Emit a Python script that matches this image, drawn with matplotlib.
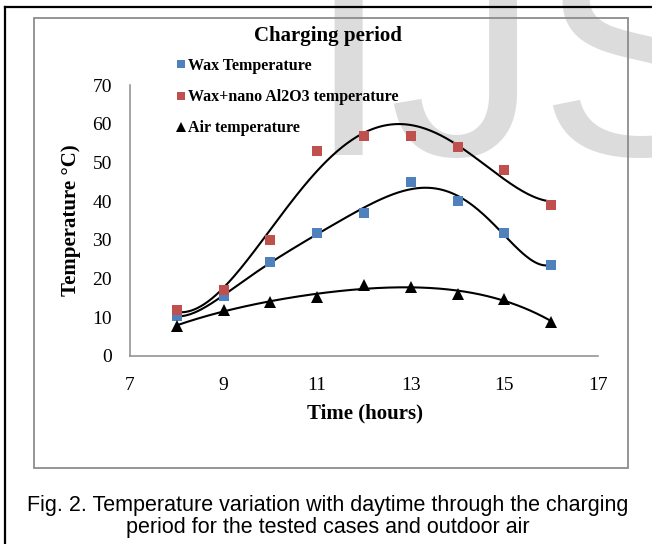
import numpy as np
import matplotlib
matplotlib.use('Agg')
import matplotlib.pyplot as plt
from matplotlib.lines import Line2D
from matplotlib.patches import Rectangle

# ---- data ----
hours = [8, 9, 10, 11, 12, 13, 14, 15, 16]
wax_temp = [10.3, 15.5, 24.4, 31.7, 37.0, 45.0, 40.0, 31.7, 23.5]
nano_temp = [11.9, 17.0, 30.0, 53.0, 56.9, 56.9, 54.1, 48.0, 39.0]
air_temp = [7.8, 11.9, 14.0, 15.3, 18.3, 17.9, 16.0, 14.8, 8.9]
series_labels = ["Wax Temperature", "Wax+nano Al2O3 temperature", "Air temperature"]
x_ticks = [7, 9, 11, 13, 15, 17]
y_ticks = [0, 10, 20, 30, 40, 50, 60, 70]
trend_orders = [6, 4, 4]

W, H = 652, 544
fig = plt.figure(figsize=(W / 100, H / 100), dpi=100)
fig.patch.set_facecolor('white')

def fx(px):
    return px / W

def fy(py):
    return 1 - py / H

serif = ['Liberation Serif', 'DejaVu Serif']
sans = ['Liberation Sans', 'DejaVu Sans']

# watermark
fig.text(fx(306), fy(155), "IJS", family=sans, fontsize=216, color='#dcdcdc',
         ha='left', va='baseline', zorder=-5)

# frames
fig.add_artist(Rectangle((fx(34), fy(468)), fx(628) - fx(34), fy(18) - fy(468),
                         transform=fig.transFigure, fill=False, edgecolor='#8c8c8c',
                         linewidth=1.3, zorder=1))
fig.add_artist(Line2D([fx(5), 1.01], [fy(7), fy(7)], transform=fig.transFigure,
                      color='black', linewidth=1.6))
fig.add_artist(Line2D([fx(5), fx(5)], [fy(7), -0.01], transform=fig.transFigure,
                      color='black', linewidth=1.6))

ax = fig.add_axes([fx(130), fy(356), fx(598) - fx(130), fy(85) - fy(356)])
ax.set_facecolor('none')

x = np.array(hours, dtype=float)
xs = np.linspace(x.min(), x.max(), 300)
series = [wax_temp, nano_temp, air_temp]
colors = ['#4f81bd', '#c0504d', 'black']
markers = ['s', 's', '^']
msizes = [7.2, 7.2, 8.5]
handles = []
for ys, c, m, ms, lab, order in zip(series, colors, markers, msizes, series_labels, trend_orders):
    h, = ax.plot(hours, ys, linestyle='none', marker=m, markersize=ms, color=c,
                 markeredgewidth=0, label=lab, zorder=4)
    handles.append(h)
    coef = np.polyfit(x, np.array(ys, dtype=float), order)
    ax.plot(xs, np.polyval(coef, xs), color='black', linewidth=1.5, zorder=3)

ax.set_xlim(7, 17)
ax.set_ylim(0, 70)
ax.set_xticks(x_ticks)
ax.set_yticks(y_ticks)
for s in ['top', 'right']:
    ax.spines[s].set_visible(False)
for s in ['left', 'bottom']:
    ax.spines[s].set_color('#8c8c8c')
    ax.spines[s].set_linewidth(1.1)
ax.tick_params(axis='both', length=0, labelsize=14)
ax.tick_params(axis='y', pad=13)
ax.tick_params(axis='x', pad=15)
for lab in ax.get_xticklabels() + ax.get_yticklabels():
    lab.set_family(serif)

ax.set_xlabel("Time (hours)", family=serif, fontsize=15, fontweight='bold')
ax.xaxis.label.set_va('center')
ax.xaxis.set_label_coords((365 - 130) / 468, (356 - 413) / 271)
ax.set_ylabel("Temperature \u00b0C)", family=serif, fontsize=15, fontweight='bold')
ax.yaxis.label.set_va('center')
ax.yaxis.set_label_coords((71 - 130) / 468, 0.5)

ax.text((328 - 130) / 468, (356 - 36) / 271, "Charging period", transform=ax.transAxes,
        family=serif, fontsize=15, fontweight='bold', ha='center', va='center')

leg = ax.legend(handles=handles, loc='upper left', bbox_to_anchor=(fx(176), fy(58)),
                bbox_transform=fig.transFigure, frameon=False, borderpad=0,
                borderaxespad=0, handlelength=0.6, handletextpad=0.15,
                labelspacing=0.95, numpoints=1, markerscale=0.85,
                prop={'family': serif, 'weight': 'bold', 'size': 11.5})

fig.text(fx(328), fy(505), "Fig. 2. Temperature variation with daytime through the charging",
         family=sans, fontsize=15.5, ha='center', va='center')
fig.text(fx(328), fy(528), "period for the tested cases and outdoor air",
         family=sans, fontsize=15.5, ha='center', va='center')

fig.savefig('out.png', dpi=100)
